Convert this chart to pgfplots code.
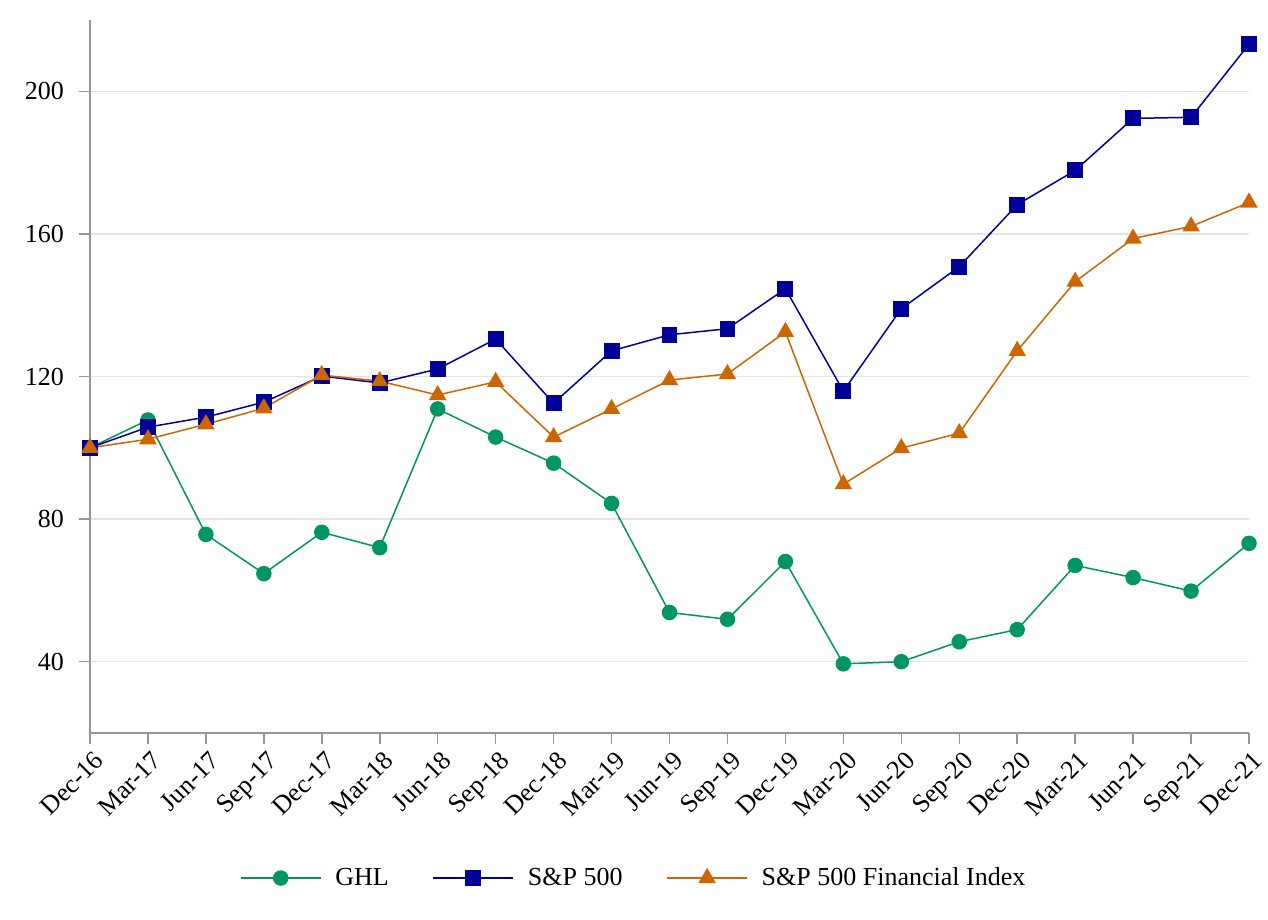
\documentclass[border=0pt]{standalone}
\usepackage{pgfplots}
\pgfplotsset{compat=1.18}
\usepackage{fontspec}
\setmainfont{Liberation Serif}
\definecolor{ghl}{RGB}{0,150,100}
\definecolor{spx}{RGB}{0,0,153}
\definecolor{fin}{RGB}{204,102,0}
\definecolor{axgray}{RGB}{150,150,150}
\definecolor{gridgray}{RGB}{228,228,228}
\begin{document}
\begin{tikzpicture}
\useasboundingbox (-45pt,-93.5pt) rectangle (589pt,366.5pt);
\begin{axis}[
  at={(0,0)}, anchor=origin,
  scale only axis, width=579.5pt, height=356.5pt,
  xmin=0, xmax=20, ymin=20, ymax=220,
  axis x line*=bottom, axis y line*=left,
  axis line style={axgray, line width=0.75pt},
  xtick={0,...,20},
  xticklabels={Dec-16,Mar-17,Jun-17,Sep-17,Dec-17,Mar-18,Jun-18,Sep-18,Dec-18,Mar-19,Jun-19,Sep-19,Dec-19,Mar-20,Jun-20,Sep-20,Dec-20,Mar-21,Jun-21,Sep-21,Dec-21},
  ytick={40,80,120,160,200},
  tick align=outside, tick pos=left,
  major tick length=5.5pt,
  tick style={axgray, line width=0.75pt},
  ymajorgrids, grid style={gridgray, line width=0.75pt},
  xticklabel style={rotate=45, anchor=north east, font=\fontsize{13}{15}\selectfont, inner sep=1pt, yshift=-2pt},
  yticklabel style={font=\fontsize{13}{15}\selectfont, xshift=-4pt},
  /pgf/number format/assume math mode=true,
  legend style={at={(0.47,-0.2034)}, anchor=center, draw=none, fill=none,
    legend columns=3, font=\fontsize{13}{15}\selectfont,
    /tikz/every odd column/.append style={column sep=5pt},
    /tikz/every even column/.append style={column sep=20pt}},
  legend image code/.code={\draw[mark repeat=2,mark phase=2] plot coordinates {(0cm,0cm)(0.7cm,0cm)(1.4cm,0cm)};},
  every axis plot/.append style={line width=0.75pt},
]
\addplot[color=ghl, mark=*, mark size=3.5pt, mark options={fill=ghl, draw=ghl}] coordinates {
(0,100)(1,107.8)(2,75.7)(3,64.7)(4,76.3)(5,72.0)(6,110.9)(7,103.0)(8,95.7)(9,84.4)(10,53.8)(11,51.9)(12,68.1)(13,39.4)(14,40.0)(15,45.6)(16,49.0)(17,67.0)(18,63.6)(19,59.8)(20,73.2)};
\addlegendentry{GHL}
\addplot[color=spx, mark=square*, mark size=3.6pt, mark options={fill=spx, draw=spx}] coordinates {
(0,100)(1,105.8)(2,108.6)(3,112.8)(4,120.1)(5,118.2)(6,122.1)(7,130.5)(8,112.5)(9,127.2)(10,131.7)(11,133.4)(12,144.6)(13,115.9)(14,139.0)(15,150.8)(16,168.2)(17,177.8)(18,192.4)(19,192.7)(20,213.2)};
\addlegendentry{S\&P 500}
\addplot[color=fin, mark=triangle*, mark size=4.3pt, mark options={fill=fin, draw=fin}] coordinates {
(0,100)(1,102.4)(2,106.6)(3,111.1)(4,120.4)(5,118.7)(6,114.8)(7,118.5)(8,103.0)(9,110.9)(10,119.0)(11,120.7)(12,132.5)(13,89.8)(14,99.9)(15,104.1)(16,127.2)(17,146.6)(18,158.7)(19,162.1)(20,168.8)};
\addlegendentry{S\&P 500 Financial Index}
\end{axis}
\end{tikzpicture}
\end{document}
